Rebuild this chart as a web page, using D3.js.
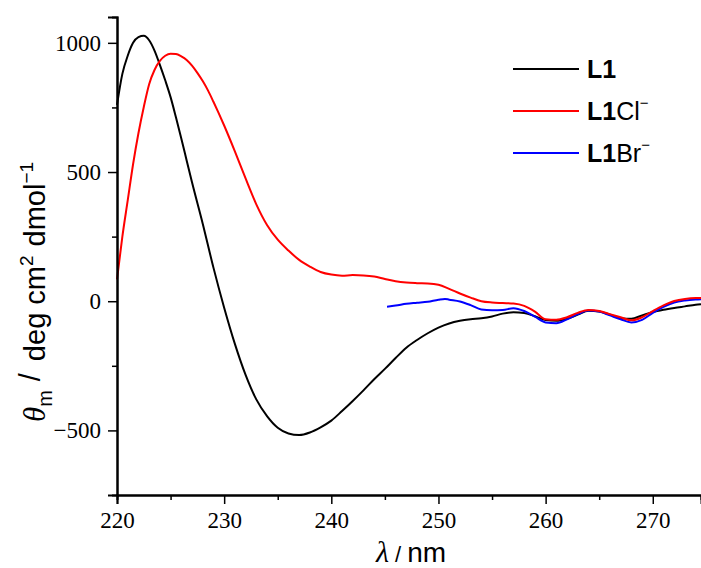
<!DOCTYPE html>
<html>
<head>
<meta charset="utf-8">
<script src="https://cdn.jsdelivr.net/npm/d3@7"></script>
<style>
  body { margin: 0; background: #fff; }
  svg { display: block; }
</style>
</head>
<body>
<svg width="701" height="568"></svg>
<script>
// wavelength / ellipticity
var l1X = [220, 220.5, 221, 221.5, 222, 222.5, 223, 223.5, 224, 224.5, 225, 225.5, 226, 226.5, 227, 228, 229, 230, 231, 232, 233, 234, 235, 236, 237, 238, 239, 240, 241, 242, 243, 244, 245, 246, 247, 248, 249, 250, 251, 252, 253, 254, 255, 256, 257, 258, 259, 260, 261, 262, 263, 264, 265, 266, 267, 268, 269, 270, 271, 272, 273, 274, 274.5];
var l1Y = [760, 880, 950, 1000, 1022, 1027, 1010, 970, 915, 855, 790, 712, 630, 545, 460, 300, 130, -25, -165, -285, -380, -445, -490, -512, -518, -508, -488, -462, -425, -386, -345, -302, -262, -220, -180, -150, -124, -102, -86, -76, -70, -66, -59, -48, -43, -46, -58, -73, -76, -68, -52, -37, -40, -52, -66, -68, -55, -42, -33, -26, -20, -14, -12];

var clX = [220, 220.5, 221, 221.5, 222, 222.5, 223, 223.5, 224, 224.5, 225, 225.5, 226, 226.5, 227, 227.5, 228, 228.5, 229, 229.5, 230, 231, 232, 233, 234, 235, 236, 237, 238, 239, 240, 241, 242, 243, 244, 245, 246, 247, 248, 249, 250, 251, 252, 253, 254, 255, 256, 257, 258, 259, 260, 261, 262, 263, 264, 265, 266, 267, 268, 269, 270, 271, 272, 273, 274, 274.5];
var clY = [85, 250, 390, 530, 650, 752, 840, 895, 930, 950, 958, 957, 948, 934, 912, 884, 852, 815, 772, 727, 680, 580, 475, 375, 295, 238, 196, 160, 134, 113, 103, 99, 101, 100, 96, 86, 77, 72, 70, 69, 64, 48, 30, 14, 0, -5, -7, -9, -18, -40, -70, -72, -62, -45, -34, -38, -50, -62, -74, -62, -38, -16, 1, 9, 12, 12];

var brX = [245.2, 246, 247, 248, 249, 250, 250.6, 251, 252, 253, 254, 255, 256, 257, 258, 259, 260, 261, 262, 263, 264, 265, 266, 267, 268, 269, 270, 271, 272, 273, 274, 274.5];
var brY = [-21, -17, -10, -6, -2, 6, 9, 6, -1, -15, -32, -35, -34, -27, -38, -60, -82, -85, -70, -50, -36, -40, -55, -70, -82, -72, -45, -22, -5, 3, 7, 8];

var xTicks = [220, 230, 240, 250, 260, 270];
var yTicks = [-500, 0, 500, 1000];

var svg = d3.select("svg");
var padL = 117, padR = 701, padT = 17, padB = 495;

var x = d3.scaleLinear().domain([220, 274.5]).range([padL, padR]);
var y = d3.scaleLinear().domain([-750, 1100]).range([padB, padT]);

function zip(xs, ys) {
    return xs.map(function(v, i) { return [v, ys[i]]; });
}

var line = d3.line()
    .x(function(d) { return x(d[0]); })
    .y(function(d) { return y(d[1]); })
    .curve(d3.curveMonotoneX);

var plot = svg.append("g");
plot.append("path").datum(zip(l1X, l1Y))
    .attr("fill", "none").attr("stroke", "#000").attr("stroke-width", 2).attr("d", line);
plot.append("path").datum(zip(brX, brY))
    .attr("fill", "none").attr("stroke", "#0000ff").attr("stroke-width", 2).attr("d", line);
plot.append("path").datum(zip(clX, clY))
    .attr("fill", "none").attr("stroke", "#ff0000").attr("stroke-width", 2).attr("d", line);

// minor ticks
var gxm = svg.append("g")
    .attr("transform", "translate(0," + padB + ")")
    .call(d3.axisBottom(x).tickValues(d3.range(225, 275, 10)).tickSize(5).tickFormat(""));
var gym = svg.append("g")
    .attr("transform", "translate(" + padL + ",0)")
    .call(d3.axisLeft(y).tickValues([-250, 250, 750]).tickSize(5).tickFormat(""));

var gx = svg.append("g")
    .attr("transform", "translate(0," + padB + ")")
    .call(d3.axisBottom(x).tickValues(xTicks).tickSize(9).tickPadding(8).tickFormat(d3.format("d")));
var gy = svg.append("g")
    .attr("transform", "translate(" + padL + ",0)")
    .call(d3.axisLeft(y).tickValues(yTicks).tickSize(9).tickPadding(7)
        .tickFormat(function(d) { return d < 0 ? "\u2212" + (-d) : d; }));

[gx, gy, gxm, gym].forEach(function(g) {
    g.selectAll("path").attr("stroke", "#000").attr("stroke-width", 2);
    g.selectAll("line").attr("stroke", "#000").attr("stroke-width", 1.5);
    g.selectAll("text")
        .attr("fill", "#000")
        .style("font-family", "'Liberation Serif', 'Times New Roman', serif")
        .style("font-size", "23px");
});

// axis titles
var xt = svg.append("text")
    .attr("x", 411).attr("y", 562)
    .attr("text-anchor", "middle")
    .style("font-family", "'Liberation Sans', Arial, sans-serif")
    .style("font-size", "28px");
xt.append("tspan").style("font-family", "'Liberation Serif', serif").style("font-style", "italic").style("font-size", "30px").text("\u03BB");
xt.append("tspan").style("font-size", "22px").text(" / ");
xt.append("tspan").text("nm");

var yt = svg.append("text")
    .attr("transform", "translate(45,292) rotate(-90)")
    .attr("text-anchor", "middle")
    .style("font-family", "'Liberation Sans', Arial, sans-serif")
    .style("font-size", "29px");
yt.append("tspan").style("font-family", "'Liberation Serif', serif").style("font-style", "italic").style("font-size", "31px").text("\u03B8");
yt.append("tspan").attr("dy", 7).style("font-family", "'Liberation Sans', Arial, sans-serif").style("font-size", "20px").text("m");
yt.append("tspan").attr("dy", -12).attr("dx", 9).text("/");
yt.append("tspan").attr("dy", 5).attr("dx", 12).text("deg cm");
yt.append("tspan").attr("dy", -12).style("font-size", "19px").text("2");
yt.append("tspan").attr("dy", 12).attr("dx", 9).text("dmol");
yt.append("tspan").attr("dy", -12).style("font-size", "19px").text("\u22121");

// legend
var legend = [
    { name: "L1", ion: "", color: "#000" },
    { name: "L1", ion: "Cl", color: "#ff0000" },
    { name: "L1", ion: "Br", color: "#0000ff" }
];
var lg = svg.append("g");
legend.forEach(function(d, i) {
    var ly = 69 + i * 42;
    lg.append("line")
        .attr("x1", 513).attr("x2", 579).attr("y1", ly).attr("y2", ly)
        .attr("stroke", d.color).attr("stroke-width", 2);
    var t = lg.append("text")
        .attr("x", 587).attr("y", ly + 9)
        .style("font-family", "'Liberation Sans', Arial, sans-serif")
        .style("font-size", "25px");
    t.append("tspan").style("font-weight", "bold").text(d.name);
    if (d.ion) {
        t.append("tspan").text(d.ion);
        t.append("tspan").attr("dy", -12).style("font-size", "15px").text("\u2212");
    }
});
</script>
</body>
</html>
